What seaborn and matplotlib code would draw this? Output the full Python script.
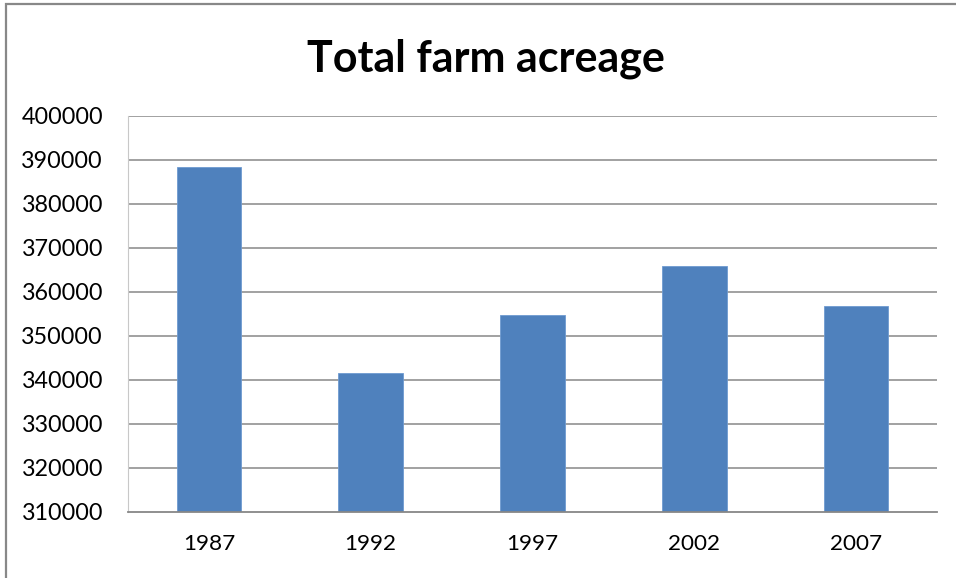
import matplotlib
matplotlib.use("Agg")
import matplotlib.pyplot as plt
from matplotlib.patches import Rectangle
import seaborn as sns
import pandas as pd

years = ["1987", "1992", "1997", "2002", "2007"]
acreage = [388500, 341600, 354800, 366000, 356800]
y_ticks = list(range(310000, 400001, 10000))

sns.set_theme(style="white")
plt.rcParams["font.family"] = ["Lato", "DejaVu Sans"]

df = pd.DataFrame({"year": years, "acreage": acreage})

fig = plt.figure(figsize=(9.56, 5.78), dpi=100)
ax = fig.add_axes([128 / 956, 1 - 512 / 578, (937 - 128) / 956, (512 - 116) / 578])

sns.barplot(data=df, x="year", y="acreage", color="#4F81BD", saturation=1,
            width=0.4, ax=ax, zorder=3, edgecolor="#6f9bd1", linewidth=0.6)

ax.set_ylim(y_ticks[0], y_ticks[-1])
ax.set_yticks(y_ticks)
ax.set_yticklabels([str(v) for v in y_ticks])
ax.set_xlabel("")
ax.set_ylabel("")

# horizontal gridlines
for v in y_ticks[1:]:
    ax.axhline(v, color="#878787", linewidth=1.1, zorder=1)

for side in ("top", "right"):
    ax.spines[side].set_visible(False)
ax.spines["left"].set_color("#c8c8c8")
ax.spines["left"].set_linewidth(0.8)
ax.spines["bottom"].set_color("#878787")
ax.spines["bottom"].set_linewidth(1.3)
ax.spines["bottom"].set_zorder(4)

ax.tick_params(axis="y", length=0, labelsize=16.8, colors="black", pad=18)
ax.tick_params(axis="x", length=0, labelsize=16.2, colors="black", pad=16)

fig.text(0.5 * (303 + 668) / 956, 1 - 59 / 578, "Total farm acreage",
         ha="center", va="center", fontsize=31, fontweight="bold", color="black")

# chart-area border
fig.patches.append(Rectangle((6 / 956, -0.05), 1.2, 1 - 4 / 578 + 0.05,
                             transform=fig.transFigure, fill=False,
                             edgecolor="#888888", linewidth=1.6))

fig.savefig("out.png", dpi=100)
